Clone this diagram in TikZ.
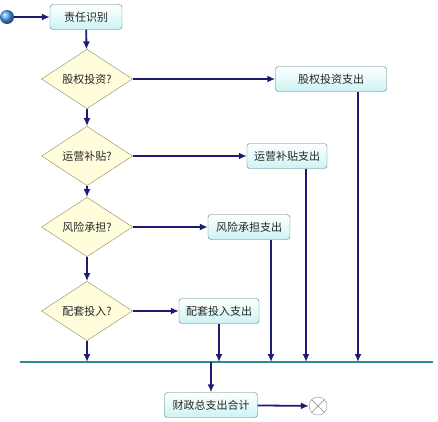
\documentclass[tikz,border=0pt]{standalone}
\usepackage{fontspec}
\newfontfamily\cjk{Noto Sans CJK SC}
\usetikzlibrary{arrows.meta,positioning,shapes.geometric}
\definecolor{flowblue}{HTML}{1C1C72}
\definecolor{boxline}{HTML}{4E7C82}
\definecolor{boxfill}{HTML}{CDF3F3}
\definecolor{testline}{HTML}{8A8A60}
\definecolor{testfill}{HTML}{FFFDDC}
\definecolor{barteal}{HTML}{2E8A92}

\begin{document}
\begin{tikzpicture}[x=1pt,y=-1pt,
    box/.style={draw=boxline,rounded corners=3pt,top color=white,bottom color=boxfill,
      minimum height=25pt,inner sep=2pt,text=black!85,font=\cjk\fontsize{11}{13}\selectfont},
    test/.style={diamond,draw=testline,fill=testfill,minimum width=91pt,minimum height=47pt,
      inner sep=0pt,text=black!85,font=\cjk\fontsize{11}{13}\selectfont},
    flow/.style={draw=flowblue,line width=1.8pt,-{Latex[length=8pt,width=7pt]}}]
      \useasboundingbox (0,0) rectangle (438,421);
      \node[circle,ball color=cyan!50!blue!70,minimum size=14pt,inner sep=0pt] (start) at (7,17) {};
      \node[box,minimum width=72pt] (duty) at (86,17) {责任识别};
      \node[test] (q1) at (87,79) {股权投资?};
      \node[test] (q2) at (87,156) {运营补贴?};
      \node[test] (q3) at (87,227) {风险承担?};
      \node[test] (q4) at (87,311) {配套投入?};
      \node[box,minimum width=111pt] (b1) at (331,79) {股权投资支出};
      \node[box,minimum width=80pt] (b2) at (287,156) {运营补贴支出};
      \node[box,minimum width=82pt] (b3) at (249,227) {风险承担支出};
      \node[box,minimum width=80pt] (b4) at (219,311) {配套投入支出};
      \node[box,minimum width=93pt] (total) at (211,405) {财政总支出合计};
      \node[circle,draw=black!45,fill=white,minimum size=18pt,inner sep=0pt] (end) at (318,406) {};
      \draw[black!45] (end.north west) -- (end.south east);
      \draw[black!45] (end.north east) -- (end.south west);
      % join bar
      \coordinate (barL) at (20,362);
      \coordinate (barR) at (433,362);
      \draw[barteal,line width=2.2pt] (barL) -- (barR);
      \draw[flow] (start) -- (duty);
      \draw[flow] (duty) -- (q1);
      \draw[flow] (q1) -- (q2);
      \draw[flow] (q2) -- (q3);
      \draw[flow] (q3) -- (q4);
      \draw[flow] (q1) -- (b1);
      \draw[flow] (q2) -- (b2);
      \draw[flow] (q3) -- (b3);
      \draw[flow] (q4) -- (b4);
      \draw[flow] (q4) -- (q4 |- barL);
      \draw[flow] (b4) -- (b4 |- barL);
      \draw[flow] ([xshift=22pt]b3.south) -- ([xshift=22pt]b3.south |- barL);
      \draw[flow] ([xshift=19pt]b2.south) -- ([xshift=19pt]b2.south |- barL);
      \draw[flow] ([xshift=27pt]b1.south) -- ([xshift=27pt]b1.south |- barL);
      \draw[flow] (total.north |- barL) -- (total);
      \draw[flow] (total) -- (end);
    \end{tikzpicture}
\end{document}
